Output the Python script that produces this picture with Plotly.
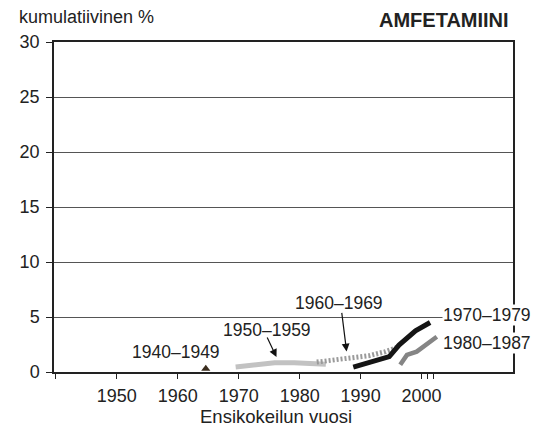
import plotly.graph_objects as go

# kumulatiivinen % amfetamiinin ensikokeilusta syntymäkohorteittain
x_1940 = [1964.6]
y_1940 = [0.3]

x_1950 = [1969.5, 1972.5, 1975.9, 1979.1, 1982.8, 1984.3]
y_1950 = [0.45, 0.65, 0.85, 0.85, 0.75, 0.7]

x_1960 = [1982.8, 1986.0, 1988.8, 1991.5, 1994.1, 1996.3]
y_1960 = [0.9, 1.1, 1.3, 1.5, 1.85, 2.3]

x_1970 = [1988.8, 1994.7, 1996.3, 1999.0, 2001.4]
y_1970 = [0.45, 1.4, 2.45, 3.75, 4.5]

x_1980 = [1996.5, 1997.6, 1999.2, 2002.5]
y_1980 = [0.65, 1.55, 1.85, 3.2]

x_ticks = [1940, 1950, 1960, 1970, 1980, 1990, 2000, 2001, 2002]
x_labels = ["", "1950", "1960", "1970", "1980", "1990", "2000", "", ""]
y_ticks = [0, 5, 10, 15, 20, 25, 30]

FONT = "Liberation Sans, Arial, sans-serif"
TXT = "#222222"

fig = go.Figure()

fig.add_trace(go.Scatter(x=x_1950, y=y_1950, mode="lines",
                         line=dict(color="#c2c2c2", width=5), name="1950–1959"))
fig.add_trace(go.Scatter(x=x_1960, y=y_1960, mode="lines",
                         line=dict(color="#9a9a9a", width=5, dash="2px,2px"), name="1960–1969"))
fig.add_trace(go.Scatter(x=x_1970, y=y_1970, mode="lines",
                         line=dict(color="#151515", width=5), name="1970–1979"))
fig.add_trace(go.Scatter(x=x_1980, y=y_1980, mode="lines",
                         line=dict(color="#858585", width=4.5), name="1980–1987"))
fig.add_trace(go.Scatter(x=x_1940, y=y_1940, mode="markers",
                         marker=dict(symbol="triangle-up", size=8, color="#3b2d1e"),
                         name="1940–1949"))

labels = [
    ("1940–1949", 1959.65, 1.8),
    ("1950–1959", 1974.6, 3.85),
    ("1960–1969", 1986.5, 6.3),
    ("1970–1979", 2010.7, 5.21),
    ("1980–1987", 2010.7, 2.66),
]
for txt, lx, ly in labels:
    fig.add_annotation(x=lx, y=ly, xref="x", yref="y", text=txt, showarrow=False,
                       font=dict(family=FONT, size=17.5, color=TXT),
                       bgcolor="white", borderpad=0)

# nuolet
fig.add_annotation(x=1976.2, y=1.36, xref="x", yref="y", text="", showarrow=True,
                   ax=-10, ay=-21, arrowhead=2, arrowsize=1.3, arrowwidth=1.2, arrowcolor="#111")
fig.add_annotation(x=1987.7, y=1.87, xref="x", yref="y", text="", showarrow=True,
                   ax=-5, ay=-40, arrowhead=2, arrowsize=1.3, arrowwidth=1.2, arrowcolor="#111")

fig.add_annotation(x=0, y=1, xref="paper", yref="paper", xanchor="left", yanchor="middle",
                   xshift=-37, yshift=25, text="kumulatiivinen %", showarrow=False,
                   font=dict(family=FONT, size=18, color=TXT))
fig.add_annotation(x=1, y=1, xref="paper", yref="paper", xanchor="right", yanchor="middle",
                   xshift=-2, yshift=22, text="<b>AMFETAMIINI</b>", showarrow=False,
                   font=dict(family=FONT, size=20, color=TXT))
fig.add_annotation(x=0.5, y=0, xref="paper", yref="paper", xanchor="center", yanchor="middle",
                   xshift=-8, yshift=-44, text="Ensikokeilun vuosi", showarrow=False,
                   font=dict(family=FONT, size=18.5, color=TXT))

# sivun oletusreunus (8 px) on huomioitu marginaaleissa
fig.update_layout(
    width=541, height=431,
    margin=dict(l=37, r=36, t=34, b=67),
    plot_bgcolor="white", paper_bgcolor="white",
    showlegend=False,
    font=dict(family=FONT, size=18, color=TXT),
)
fig.update_xaxes(range=[1939.7, 2015], tickvals=x_ticks, ticktext=x_labels,
                 ticks="outside", ticklen=5, tickcolor="#222", showgrid=False,
                 ticklabelstandoff=2,
                 zeroline=False, showline=True, linecolor="#222", linewidth=1.5, mirror=True)
fig.update_yaxes(range=[0, 30], tickvals=y_ticks, ticks="outside", ticklen=6,
                 tickcolor="#222", showgrid=True, gridcolor="#555", gridwidth=1,
                 ticklabelstandoff=3,
                 zeroline=False, showline=True, linecolor="#222", linewidth=1.5, mirror=True)

fig.write_html("out.html")
